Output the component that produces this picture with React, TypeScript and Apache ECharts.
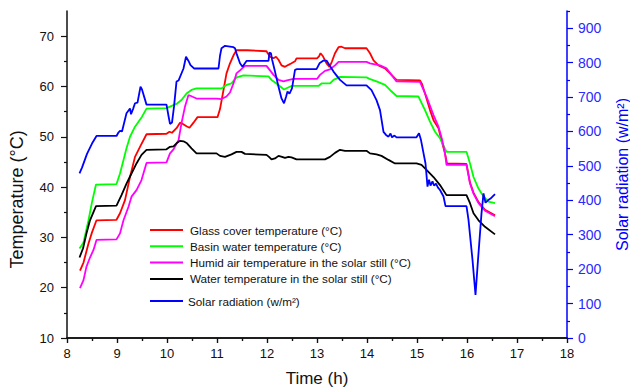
import React, { useEffect, useRef } from "react";
import * as echarts from "echarts";

// Time (h) / value pairs
const glassCover: [number, number][] = [
  [8.26, 23.4], [8.33, 25], [8.43, 28.8], [8.5, 31], [8.59, 33.4], [8.99, 33.5], [9.06, 34.8], [9.16, 37.4],
  [9.26, 42], [9.36, 46], [9.46, 48], [9.59, 50.5], [9.99, 50.6], [10.05, 51], [10.1, 50.8], [10.19, 51.7],
  [10.26, 52.8], [10.31, 52.6], [10.39, 52.1], [10.45, 51.8], [10.53, 52.8], [10.61, 53.9], [11.01, 53.9],
  [11.06, 55.5], [11.13, 59.3], [11.19, 62.6], [11.26, 64.6], [11.33, 66.2], [11.39, 67.2], [11.6, 67.2],
  [11.99, 67.0], [12.06, 65.9], [12.13, 65.6], [12.18, 65.9], [12.23, 65.3], [12.29, 64.2], [12.36, 63.9],
  [12.43, 64.3], [12.49, 64.6], [12.56, 65.0], [12.59, 65.6], [13.0, 65.6], [13.04, 66], [13.07, 66.6],
  [13.12, 66], [13.19, 64.6], [13.25, 63.9], [13.3, 65], [13.36, 66.6], [13.43, 67.8], [13.49, 67.9],
  [13.56, 67.6], [13.99, 67.6], [14.06, 66.6], [14.13, 65.2], [14.23, 64.2], [14.36, 63.6], [14.46, 62.6],
  [14.59, 61.3], [15.06, 61.2], [15.1, 60.5], [15.16, 58.6], [15.26, 55.3], [15.33, 53.3], [15.43, 51.7],
  [15.49, 49.3], [15.56, 46.7], [15.6, 44.7], [15.99, 44.6], [16.06, 40.9], [16.13, 38.9], [16.23, 37],
  [16.36, 35.5], [16.56, 34.4],
];

const basinWater: [number, number][] = [
  [8.25, 27.8], [8.33, 29], [8.43, 33.4], [8.5, 37], [8.58, 40.5], [8.99, 40.6], [9.06, 42.7], [9.13, 45.4],
  [9.19, 47.7], [9.26, 50], [9.36, 52], [9.43, 53], [9.5, 54], [9.59, 55.6], [9.99, 55.7], [10.06, 56],
  [10.13, 56.3], [10.2, 56.6], [10.29, 57.3], [10.39, 58.6], [10.49, 59.3], [10.59, 59.6], [11.09, 59.6],
  [11.19, 60.3], [11.29, 60.6], [11.39, 61.8], [11.53, 62.2], [12.03, 62.0], [12.09, 61.3], [12.19, 60.6],
  [12.29, 59.8], [12.34, 59.4], [12.4, 59.7], [12.49, 60.1], [13.03, 60.1], [13.09, 60.6], [13.26, 60.6],
  [13.33, 61.3], [13.46, 61.9], [13.99, 61.8], [14.05, 61.5], [14.19, 61], [14.36, 60.3], [14.46, 59.3],
  [14.59, 58.1], [15.03, 58.0], [15.16, 55.3], [15.26, 53], [15.36, 51], [15.46, 49.7], [15.59, 47],
  [15.99, 47], [16.06, 44.7], [16.13, 42], [16.23, 39.7], [16.33, 38.1], [16.43, 37.1], [16.56, 36.8],
];

const humidAir: [number, number][] = [
  [8.26, 19.9], [8.33, 21.5], [8.39, 24.2], [8.46, 26], [8.53, 27.5], [8.59, 29.5], [8.99, 29.6], [9.06, 30.8],
  [9.13, 33.4], [9.23, 36.1], [9.29, 38.1], [9.39, 39.4], [9.49, 41.4], [9.59, 44.8], [9.99, 44.9],
  [10.06, 46.7], [10.13, 47.5], [10.23, 49.3], [10.29, 52.7], [10.36, 56], [10.43, 58.3], [10.5, 58],
  [10.59, 57.6], [10.99, 57.6], [11.09, 57.5], [11.19, 58], [11.26, 58.8], [11.33, 60.6], [11.39, 62.6],
  [11.46, 63.2], [11.56, 64.1], [11.99, 64.1], [12.06, 63.2], [12.13, 62.3], [12.23, 61.3], [12.33, 61],
  [12.4, 61.2], [12.53, 61.5], [13.0, 61.5], [13.06, 62.3], [13.16, 63.1], [13.26, 63.4], [13.36, 64.2],
  [13.43, 64.9], [13.99, 64.9], [14.06, 64.6], [14.26, 64.2], [14.39, 63.6], [14.49, 62.3], [14.59, 61],
  [15.06, 60.9], [15.19, 58], [15.33, 54.3], [15.43, 52], [15.5, 49.5], [15.56, 46.7], [15.59, 44.4],
  [15.99, 44.4], [16.06, 40.7], [16.13, 38.7], [16.23, 36.8], [16.36, 35.3], [16.56, 34.2],
];

const waterInStill: [number, number][] = [
  [8.25, 26], [8.32, 27.8], [8.39, 30.8], [8.46, 33.4], [8.58, 36.2], [8.99, 36.3], [9.09, 38.4], [9.19, 40.7],
  [9.29, 42.7], [9.39, 44.7], [9.49, 46.4], [9.59, 47.4], [9.99, 47.5], [10.06, 48], [10.13, 48.1],
  [10.19, 48.7], [10.26, 49.2], [10.33, 49.1], [10.4, 48.7], [10.49, 47.7], [10.59, 46.7], [10.99, 46.7],
  [11.06, 46.2], [11.16, 46.0], [11.29, 46.5], [11.39, 47], [11.49, 47], [11.56, 46.6], [11.99, 46.4],
  [12.04, 46.0], [12.09, 45.5], [12.16, 45.7], [12.23, 46.2], [12.3, 46.0], [12.36, 45.8], [12.43, 46.0],
  [12.49, 45.9], [12.59, 45.5], [13.16, 45.5], [13.26, 46.0], [13.36, 46.8], [13.46, 47.4], [13.56, 47.2],
  [13.99, 47.2], [14.06, 46.7], [14.19, 46.5], [14.29, 46.2], [14.43, 45.4], [14.56, 44.7], [14.99, 44.7],
  [15.09, 44.4], [15.19, 43.4], [15.33, 42], [15.46, 40.4], [15.59, 38.4], [15.99, 38.4], [16.06, 36.8],
  [16.13, 34.8], [16.23, 33.4], [16.36, 32.1], [16.56, 30.6],
];

const solarRadiation: [number, number][] = [
  [8.25, 478], [8.3, 495], [8.4, 535], [8.5, 565], [8.59, 587], [8.99, 587], [9.02, 595], [9.06, 602],
  [9.1, 600], [9.19, 653], [9.26, 667], [9.28, 650], [9.32, 665], [9.36, 682], [9.41, 684], [9.47, 730],
  [9.5, 722], [9.59, 678], [9.99, 678], [10.03, 645], [10.06, 622], [10.1, 626], [10.14, 672], [10.19, 745],
  [10.23, 748], [10.33, 783], [10.38, 817], [10.43, 805], [10.47, 793], [10.54, 783], [11.03, 783],
  [11.06, 820], [11.09, 842], [11.16, 849], [11.33, 845], [11.36, 842], [11.39, 827], [11.46, 798],
  [11.51, 788], [11.59, 805], [12.03, 805], [12.05, 829], [12.08, 827], [12.1, 810], [12.16, 774],
  [12.23, 730], [12.29, 696], [12.34, 682], [12.38, 700], [12.41, 716], [12.45, 710], [12.5, 725],
  [12.56, 779], [12.6, 781], [12.99, 781], [13.05, 798], [13.13, 806], [13.19, 806], [13.33, 774],
  [13.46, 750], [13.59, 734], [13.99, 734], [14.09, 720], [14.19, 691], [14.26, 662], [14.33, 599],
  [14.38, 590], [14.43, 585], [14.47, 594], [14.5, 583], [14.55, 588], [14.59, 583], [14.99, 583],
  [15.04, 595], [15.08, 575], [15.13, 537], [15.17, 507], [15.21, 440], [15.24, 460], [15.27, 443],
  [15.31, 455], [15.34, 443], [15.38, 448], [15.42, 437], [15.46, 430], [15.53, 411], [15.57, 383],
  [15.99, 383], [16.03, 343], [16.11, 227], [16.17, 125], [16.22, 227], [16.29, 362], [16.33, 420],
  [16.37, 393], [16.42, 400], [16.47, 405], [16.56, 418],
];

const seriesNames = [
  "Glass cover temperature (°C)",
  "Basin water temperature (°C)",
  "Humid air temperature in the solar still (°C)",
  "Water temperature in the solar still (°C)",
];
const solarName = "Solar radiation (w/m²)";

const timeTicks = [8, 9, 10, 11, 12, 13, 14, 15, 16, 17, 18];
const tempTicks = [10, 20, 30, 40, 50, 60, 70];
const tempMinorTicks = [15, 25, 35, 45, 55, 65];
const radTicks = [0, 100, 200, 300, 400, 500, 600, 700, 800, 900];
const radMinorTicks = [50, 150, 250, 350, 450, 550, 650, 750, 850, 950];

const FONT = "'Liberation Sans', Arial, Helvetica, sans-serif";
const BLUE = "#0000ff";

export default function App() {
  const ref = useRef<HTMLDivElement>(null);
  useEffect(() => {
    if (!ref.current) return;
    const chart = echarts.init(ref.current, null, { renderer: "svg" });
    const tempData = [glassCover, basinWater, humidAir, waterInStill];
    const tempColors = ["#ff0000", "#00ff00", "#ff00ff", "#000000"];
    const series: any[] = [0, 1, 2, 3].map((i) => ({
      name: seriesNames[i],
      type: "line",
      xAxisIndex: 0,
      yAxisIndex: 0,
      data: tempData[i],
      showSymbol: false,
      symbol: "none",
      color: tempColors[i],
      lineStyle: { width: 1.8, color: tempColors[i] },
      z: 3,
    }));
    series.push({
      name: solarName,
      type: "line",
      xAxisIndex: 0,
      yAxisIndex: 2,
      data: solarRadiation,
      showSymbol: false,
      symbol: "none",
      color: BLUE,
      lineStyle: { width: 1.8, color: BLUE },
      z: 4,
    });

    const option: any = {
      animation: false,
      backgroundColor: "#ffffff",
      textStyle: { fontFamily: FONT },
      grid: { left: 67, right: 63, top: 11, bottom: 49, containLabel: false, outerBoundsMode: "none" },
      legend: [
        {
          data: seriesNames,
          orient: "vertical",
          left: 150,
          top: 223,
          padding: 0,
          icon: "rect",
          itemWidth: 33,
          itemHeight: 2,
          itemGap: 2.3,
          textStyle: { fontFamily: FONT, fontSize: 11.7, color: "#111", lineHeight: 14, padding: [0, 0, 0, 2] },
        },
        {
          data: [solarName],
          orient: "vertical",
          left: 150,
          top: 294,
          padding: 0,
          icon: "rect",
          itemWidth: 33,
          itemHeight: 2,
          textStyle: { fontFamily: FONT, fontSize: 11.7, color: "#111", lineHeight: 14 },
        },
      ],
      xAxis: [
        {
          type: "value",
          position: "bottom",
          min: 8,
          max: 18,
          interval: 1,
          name: "Time (h)",
          nameLocation: "middle",
          nameGap: 32,
          nameTextStyle: { fontFamily: FONT, fontSize: 17, color: "#111" },
          axisLine: { show: true, lineStyle: { color: "#111", width: 1.5 } },
          axisTick: { show: true, inside: false, length: 5, lineStyle: { width: 1.2 }, customValues: timeTicks },
          minorTick: { show: true, splitNumber: 2, length: 3, lineStyle: { color: "#111", width: 1.2 } },
          axisLabel: { fontFamily: FONT, fontSize: 13, color: "#111", margin: 9, customValues: timeTicks },
          splitLine: { show: false },
        },
        {
          type: "value",
          position: "top",
          min: 8,
          max: 18,
          interval: 1,
          axisLine: { show: true, lineStyle: { color: "#111", width: 1.5 } },
          axisTick: { show: true, inside: true, length: 5, lineStyle: { width: 1.2 } },
          minorTick: { show: true, splitNumber: 2, length: 3, lineStyle: { color: "#111", width: 1.2 } },
          axisLabel: { show: false },
          splitLine: { show: false },
        },
      ],
      yAxis: [
        {
          type: "value",
          position: "left",
          min: 10,
          max: 75,
          interval: 5,
          name: "Temperature (°C)",
          nameLocation: "middle",
          nameGap: 41,
          nameTextStyle: { fontFamily: FONT, fontSize: 18, color: "#111", padding: [0, 50, 0, 0] },
          axisLine: { show: true, lineStyle: { color: "#111", width: 1.5 } },
          axisTick: { show: true, inside: false, length: 6, lineStyle: { width: 1.2 }, customValues: tempTicks },
          axisLabel: { fontFamily: FONT, fontSize: 13, color: "#111", margin: 13, customValues: tempTicks },
          splitLine: { show: false },
        },
        {
          type: "value",
          position: "left",
          min: 10,
          max: 75,
          interval: 5,
          axisLine: { show: false },
          axisTick: { show: true, inside: false, length: 3, lineStyle: { color: "#111", width: 1.2 }, customValues: tempMinorTicks },
          axisLabel: { show: false },
          splitLine: { show: false },
        },
        {
          type: "value",
          position: "right",
          min: 0,
          max: 950,
          interval: 50,
          name: solarName,
          nameLocation: "middle",
          nameGap: 47,
          nameTextStyle: { fontFamily: FONT, fontSize: 16, color: BLUE },
          axisLine: { show: true, lineStyle: { color: BLUE, width: 1.5 } },
          axisTick: { show: true, inside: false, length: 6, lineStyle: { width: 1.2 }, customValues: radTicks },
          axisLabel: { fontFamily: FONT, fontSize: 14, color: "#2a2aff", margin: 11, customValues: radTicks },
          splitLine: { show: false },
        },
        {
          type: "value",
          position: "right",
          min: 0,
          max: 950,
          interval: 50,
          axisLine: { show: false },
          axisTick: { show: true, inside: false, length: 3, lineStyle: { color: BLUE, width: 1.2 }, customValues: radMinorTicks },
          axisLabel: { show: false },
          splitLine: { show: false },
        },
      ],
      series,
    };
    chart.setOption(option);
    return () => chart.dispose();
  }, []);
  return (
    <div
      ref={ref}
      style={{ position: "fixed", left: 0, top: 0, width: 630, height: 387, background: "#fff" }}
    />
  );
}
